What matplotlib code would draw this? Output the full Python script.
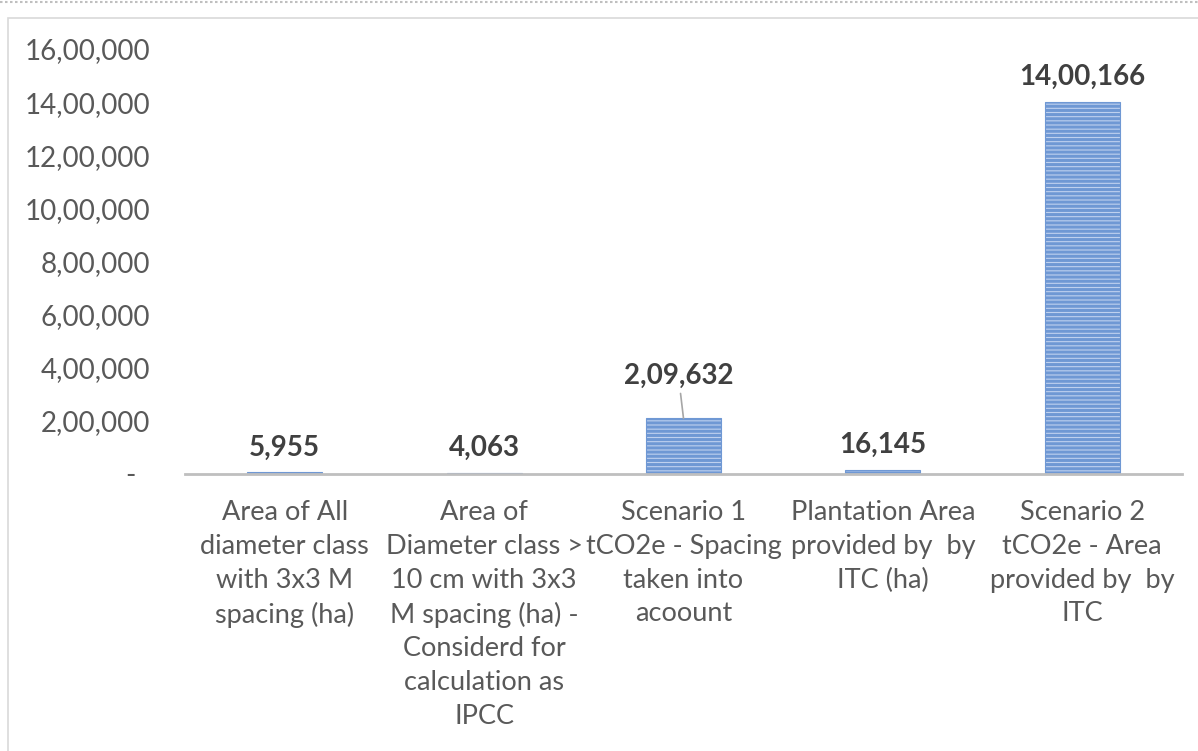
import numpy as np
import matplotlib as mpl
import matplotlib.pyplot as plt
from matplotlib.patches import Rectangle
from matplotlib.lines import Line2D
from matplotlib.ticker import FuncFormatter

categories = [
    "Area of All\ndiameter class\nwith 3x3 M\nspacing (ha)",
    "Area of\nDiameter class >\n10 cm with 3x3\nM spacing (ha) -\nConsiderd for\ncalculation as\nIPCC",
    "Scenario 1\ntCO2e - Spacing\ntaken into\nacoount",
    "Plantation Area\nprovided by  by\nITC (ha)",
    "Scenario 2\ntCO2e - Area\nprovided by  by\nITC",
]
values = [5955, 4063, 209632, 16145, 1400166]
yticks = [0, 200000, 400000, 600000, 800000, 1000000, 1200000, 1400000, 1600000]


def indian(n):
    s = str(int(round(n)))
    if len(s) <= 3:
        return s
    head, tail = s[:-3], s[-3:]
    parts = []
    while len(head) > 2:
        parts.insert(0, head[-2:])
        head = head[:-2]
    if head:
        parts.insert(0, head)
    return ",".join(parts) + "," + tail


mpl.rcParams['font.family'] = ['Lato', 'DejaVu Sans']
mpl.rcParams['hatch.linewidth'] = 2.2
mpl.rcParams['hatch.color'] = '#4775c2'

fig = plt.figure(figsize=(11.98, 7.51), dpi=100)
ax = fig.add_axes([185 / 1198, 1 - 474 / 751, (1182 - 185) / 1198, (474 - 49) / 751])

# outer frame and dotted line like the source document
fig.patches.append(Rectangle((8 / 1198, -0.1), 1.2, 1 - 18 / 751 + 0.1, transform=fig.transFigure,
                             fill=False, edgecolor='#d9d9d9', linewidth=1.2))
fig.lines.append(Line2D([0, 1], [1 - 2 / 751, 1 - 2 / 751], transform=fig.transFigure,
                        color='#bfbfbf', linewidth=1.5, linestyle=(0, (1.2, 1.2))))

x = np.arange(len(values))
bars = ax.bar(x, values, width=0.376, color='#bfd1ef', edgecolor='#6f98d4', linewidth=0.8, hatch='----')

ax.set_xlim(-0.5, len(values) - 0.5)
ax.set_ylim(0, 1600000)
ax.set_yticks(yticks)
ax.yaxis.set_major_formatter(FuncFormatter(lambda v, p: "-  " if v == 0 else indian(v)))
ax.set_xticks(x)
ax.set_xticklabels(categories, linespacing=1.43)
ax.tick_params(axis='y', length=0, pad=25, labelsize=20, labelcolor='#595959')
ax.tick_params(axis='x', length=0, pad=19, labelsize=19.5, labelcolor='#595959')

for s in ['top', 'right', 'left']:
    ax.spines[s].set_visible(False)
ax.spines['bottom'].set_color('#bfbfbf')
ax.spines['bottom'].set_linewidth(2)

offsets = [25, 25, 42, 25, 25]
for xi, v, off in zip(x, values, offsets):
    kw = {}
    if off > 30:
        kw['arrowprops'] = dict(arrowstyle='-', color='#a6a6a6', linewidth=1.2, shrinkA=1, shrinkB=0)
    ax.annotate(indian(v), xy=(xi, v), xytext=(-5 if off > 30 else 0, off), textcoords='offset pixels',
                ha='center', va='center', fontsize=20, fontweight='bold', color='#404040', **kw)

fig.savefig("out.png", dpi=100)
